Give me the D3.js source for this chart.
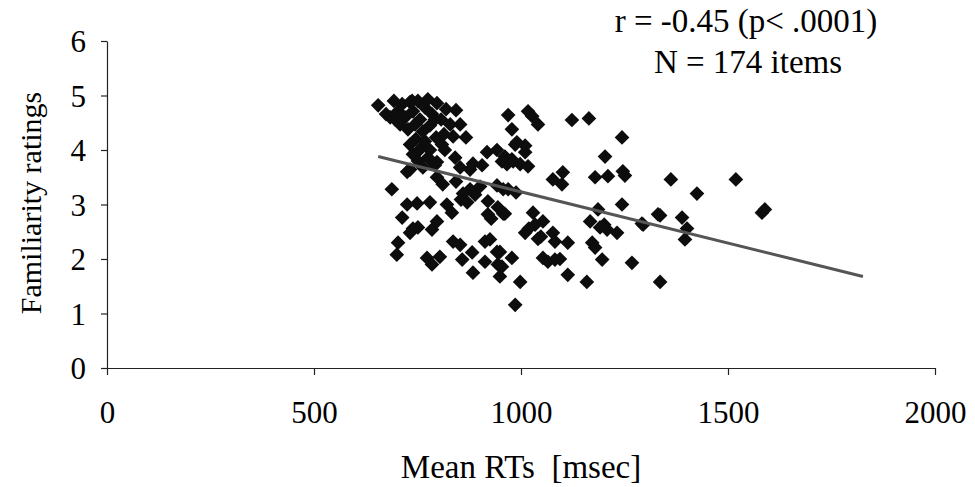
<!DOCTYPE html>
<html>
<head>
<meta charset="utf-8">
<script src="https://cdn.jsdelivr.net/npm/d3@7"></script>
<style>
  html, body { margin: 0; padding: 0; background: #fff; }
  svg { display: block; }
  text { font-family: "Liberation Serif", "Times New Roman", serif; fill: #000; white-space: pre; }
</style>
</head>
<body>
<svg id="chart" width="975" height="487"></svg>
<script>
// ---- data ----
const xTicks = [0, 500, 1000, 1500, 2000];
const yTicks = [0, 1, 2, 3, 4, 5, 6];
const xTitle = "Mean RTs  [msec]";
const yTitle = "Familiarity ratings";
const annotation = ["r = -0.45 (p< .0001)", "N = 174 items"];

// mean RTs (msec) per item
const rts = [
  655, 684, 693, 703, 713, 720, 732, 739, 751, 756, 768, 775, 785, 797, 807, 819,
  708, 727, 744, 763, 780, 795, 746, 732, 756, 768, 814, 843, 853, 867, 836, 829,
  674, 696, 737, 792, 809, 780, 739, 751, 732, 725, 763, 775, 797, 797, 816, 841,
  853, 877, 843, 811, 688, 901, 918, 906, 954, 978, 969, 978, 990, 1017, 1027, 1041,
  986, 1010, 961, 966, 981, 998, 1017, 1123, 1164, 1244, 1203, 1077, 1101, 1099, 1179, 1210,
  1246, 1251, 957, 969, 944, 1244, 1362, 1425, 1519, 1336, 1389, 1401, 1396, 1582, 1589, 1295,
  1336, 1186, 1167, 1191, 1208, 1232, 1172, 1179, 1196, 1268, 1292, 1331, 1159, 1113, 1053, 1065,
  1082, 1029, 1053, 1010, 1041, 1077, 1082, 1113, 978, 949, 954, 949, 998, 986, 961, 920,
  920, 957, 944, 913, 942, 913, 925, 884, 882, 858, 836, 853, 821, 855, 870, 780,
  749, 725, 713, 739, 732, 751, 797, 785, 703, 700, 773, 785, 804, 833, 889, 877,
  777, 792, 884, 942, 1010, 988, 942, 928, 1034, 1019, 1048, 1094, 1201, 860
];
// familiarity ratings per item
const ratings = [
  4.82, 4.60, 4.90, 4.71, 4.84, 4.60, 4.88, 4.71, 4.90, 4.56, 4.78, 4.93, 4.66, 4.86, 4.56, 4.75,
  4.47, 4.38, 4.47, 4.34, 4.45, 4.23, 4.20, 4.10, 4.01, 4.16, 4.29, 4.73, 4.47, 4.23, 4.25, 4.47,
  4.66, 4.56, 4.90, 4.56, 4.10, 4.00, 3.92, 3.80, 3.64, 3.60, 3.68, 3.86, 3.78, 3.50, 4.00, 3.86,
  3.68, 3.64, 3.42, 3.37, 3.28, 3.33, 3.96, 3.72, 3.79, 3.83, 4.64, 4.38, 4.14, 4.71, 4.62, 4.47,
  4.10, 3.96, 3.88, 3.74, 3.79, 3.74, 3.70, 4.55, 4.58, 4.23, 3.88, 3.46, 3.59, 3.37, 3.50, 3.52,
  3.61, 3.53, 3.28, 3.28, 2.95, 3.00, 3.46, 3.20, 3.46, 2.80, 2.76, 2.56, 2.36, 2.85, 2.91, 2.63,
  1.58, 2.91, 2.69, 2.58, 2.54, 2.48, 2.30, 2.21, 1.99, 1.93, 2.65, 2.82, 1.58, 1.71, 2.02, 1.95,
  1.99, 2.85, 2.69, 2.48, 2.37, 2.48, 2.32, 2.30, 2.02, 2.13, 1.86, 1.68, 1.58, 1.16, 2.83, 3.06,
  2.82, 2.83, 1.90, 1.95, 2.13, 2.32, 2.36, 1.75, 2.12, 1.99, 2.32, 2.26, 3.00, 3.09, 3.04, 3.04,
  3.02, 3.00, 2.76, 2.56, 2.48, 2.58, 2.69, 2.54, 2.30, 2.08, 2.02, 1.90, 2.04, 2.85, 3.18, 3.28,
  3.85, 3.72, 3.75, 4.00, 4.08, 3.22, 3.35, 2.74, 2.63, 2.56, 2.41, 2.00, 2.63, 3.20
];
// regression line end points
const fitX = [655, 1826];
const fitY = [3.88, 1.68];

// ---- layout ----
const svg = d3.select("#chart");
const x = d3.scaleLinear().domain([0, 2000]).range([107, 935]);
const y = d3.scaleLinear().domain([0, 6]).range([368, 41]);
const serif = '"Liberation Serif", "Times New Roman", serif';

// axes
const gx = svg.append("g").attr("transform", `translate(0,${y(0)})`)
  .call(d3.axisBottom(x).tickValues(xTicks).tickSize(7).tickSizeOuter(0).tickFormat(d3.format("d")));
const gy = svg.append("g").attr("transform", `translate(${x(0)},0)`)
  .call(d3.axisLeft(y).tickValues(yTicks).tickSize(6).tickSizeOuter(0).tickFormat(d3.format("d")));

[gx, gy].forEach(g => {
  g.select(".domain").attr("stroke", "#222").attr("stroke-width", 1.2);
  g.selectAll(".tick line").attr("stroke", "#222").attr("stroke-width", 1.2);
  g.selectAll(".tick text").attr("fill", "#000")
    .style("font-family", serif)
    .style("font-size", "31px");
});
gx.selectAll(".tick text").attr("y", 44).attr("dy", null).attr("dominant-baseline", "central");
gy.selectAll(".tick text").attr("x", -21).attr("dy", null).attr("dominant-baseline", "central");

// points
const pts = rts.map((v, i) => [v, ratings[i]]);
const diamond = d3.symbol(d3.symbolSquare, 108);
svg.append("g").selectAll("path").data(pts).join("path")
  .attr("d", diamond)
  .attr("transform", d => `translate(${x(d[0])},${y(d[1])}) rotate(45)`)
  .attr("fill", "#0d0d0d");

// regression line
svg.append("line")
  .attr("x1", x(fitX[0])).attr("y1", y(fitY[0]))
  .attr("x2", x(fitX[1])).attr("y2", y(fitY[1]))
  .attr("stroke", "#555").attr("stroke-width", 3);

// titles
svg.append("text")
  .attr("transform", `translate(30,203) rotate(-90)`)
  .attr("text-anchor", "middle").attr("dominant-baseline", "central")
  .style("font-size", "30px").text(yTitle);
svg.append("text")
  .attr("x", x(1000)).attr("y", 467)
  .attr("text-anchor", "middle").attr("dominant-baseline", "central")
  .style("font-size", "33px").text(xTitle);

// annotation
svg.append("text").attr("x", 746).attr("y", 21)
  .attr("text-anchor", "middle").attr("dominant-baseline", "central")
  .style("font-size", "33px").text(annotation[0]);
svg.append("text").attr("x", 748).attr("y", 62)
  .attr("text-anchor", "middle").attr("dominant-baseline", "central")
  .style("font-size", "33px").text(annotation[1]);
</script>
</body>
</html>
